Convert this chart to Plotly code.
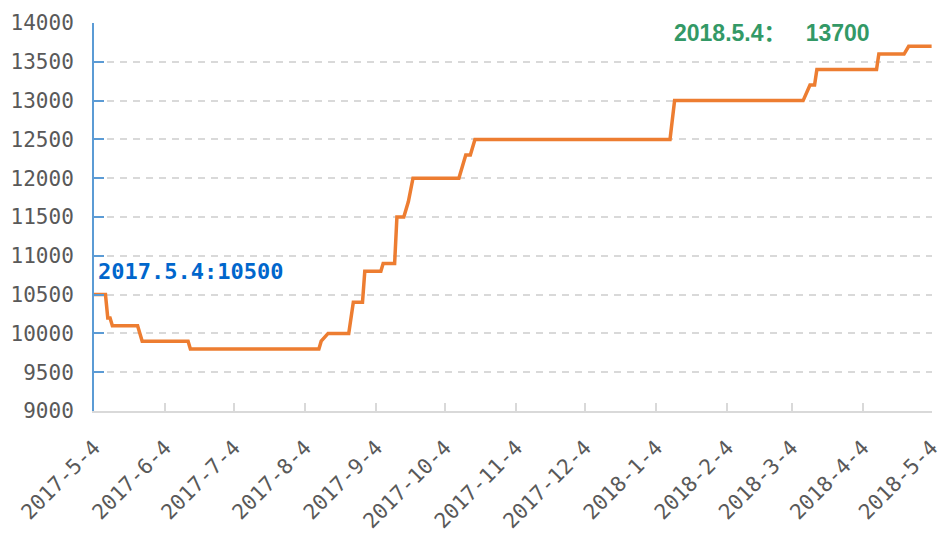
import plotly.graph_objects as go

# Price change points (date, price)
dates = [
    "2017-05-04", "2017-05-09", "2017-05-10", "2017-05-11", "2017-05-12",
    "2017-05-23", "2017-05-25", "2017-06-14", "2017-06-15",
    "2017-08-10", "2017-08-11", "2017-08-14", "2017-08-23", "2017-08-25",
    "2017-08-29", "2017-08-30", "2017-09-06", "2017-09-07", "2017-09-12",
    "2017-09-13", "2017-09-16", "2017-09-18", "2017-09-20", "2017-10-10",
    "2017-10-13", "2017-10-15", "2017-10-17", "2018-01-10", "2018-01-12",
    "2018-03-09", "2018-03-12", "2018-03-14", "2018-03-15", "2018-04-10",
    "2018-04-11", "2018-04-22", "2018-04-24", "2018-05-04",
]
prices = [
    10500, 10500, 10200, 10200, 10100,
    10100, 9900, 9900, 9800,
    9800, 9900, 10000, 10000, 10400,
    10400, 10800, 10800, 10900, 10900,
    11500, 11500, 11700, 12000, 12000,
    12300, 12300, 12500, 12500, 13000,
    13000, 13200, 13200, 13400, 13400,
    13600, 13600, 13700, 13700,
]

tick_dates = [
    "2017-05-04", "2017-06-04", "2017-07-04", "2017-08-04", "2017-09-04",
    "2017-10-04", "2017-11-04", "2017-12-04", "2018-01-04", "2018-02-04",
    "2018-03-04", "2018-04-04", "2018-05-04",
]
tick_labels = [
    "2017-5-4", "2017-6-4", "2017-7-4", "2017-8-4", "2017-9-4",
    "2017-10-4", "2017-11-4", "2017-12-4", "2018-1-4", "2018-2-4",
    "2018-3-4", "2018-4-4", "2018-5-4",
]
y_ticks = [9000, 9500, 10000, 10500, 11000, 11500, 12000, 12500, 13000, 13500, 14000]
y_labels = ["9000", "9500", "10000", "10500", "11000", "11500", "12000", "12500", "13000", "13500", "14000"]

start_label = "2017.5.4:10500"
end_label = "2018.5.4：\u00a0\u00a0\u00a013700"

fig = go.Figure()
fig.add_trace(go.Scatter(
    x=dates, y=prices, mode="lines",
    line=dict(color="#ED7D31", width=3.5),
    hoverinfo="skip", showlegend=False,
))

fig.add_annotation(
    x="2017-05-05", y=10800, xref="x", yref="y",
    text=start_label, showarrow=False, xanchor="left", yanchor="middle",
    font=dict(family="DejaVu Sans Mono", size=22, color="#0066CC", weight="bold"),
)
fig.add_annotation(
    x="2018-01-11", y=13870, xref="x", yref="y",
    text=end_label, showarrow=False, xanchor="left", yanchor="middle",
    font=dict(family="Liberation Sans, Noto Sans CJK SC", size=23, color="#339966", weight="bold"),
)

tick_font = dict(family="DejaVu Sans Mono", size=21, color="#595959")

fig.update_xaxes(
    type="date",
    range=["2017-05-04", "2018-05-04 04:00"],
    tickmode="array", tickvals=tick_dates, ticktext=tick_labels,
    tickangle=-45, tickfont=tick_font,
    ticks="inside", ticklen=8, tickwidth=1.5, tickcolor="#D9D9D9",
    showline=True, linecolor="#D9D9D9", linewidth=2,
    showgrid=False, zeroline=False,
    ticklabelstandoff=14,
    ticklabeloverflow="allow",
    automargin=False,
)
fig.update_yaxes(
    range=[9000, 14000],
    tickmode="array", tickvals=y_ticks, ticktext=y_labels,
    tickfont=tick_font,
    ticks="inside", ticklen=10, tickwidth=2, tickcolor="#5B9BD5",
    showline=True, linecolor="#5B9BD5", linewidth=2,
    showgrid=True, gridcolor="#D9D9D9", gridwidth=1.5, griddash="7px,6px",
    zeroline=False,
    ticklabelstandoff=14,
    automargin=False,
)

fig.update_layout(
    width=945, height=533,
    margin=dict(l=94, r=13, t=23, b=122),
    paper_bgcolor="white", plot_bgcolor="white",
    showlegend=False,
)

fig.write_html("out.html", config={"displayModeBar": False},
               post_script="document.body.style.margin='0';")
